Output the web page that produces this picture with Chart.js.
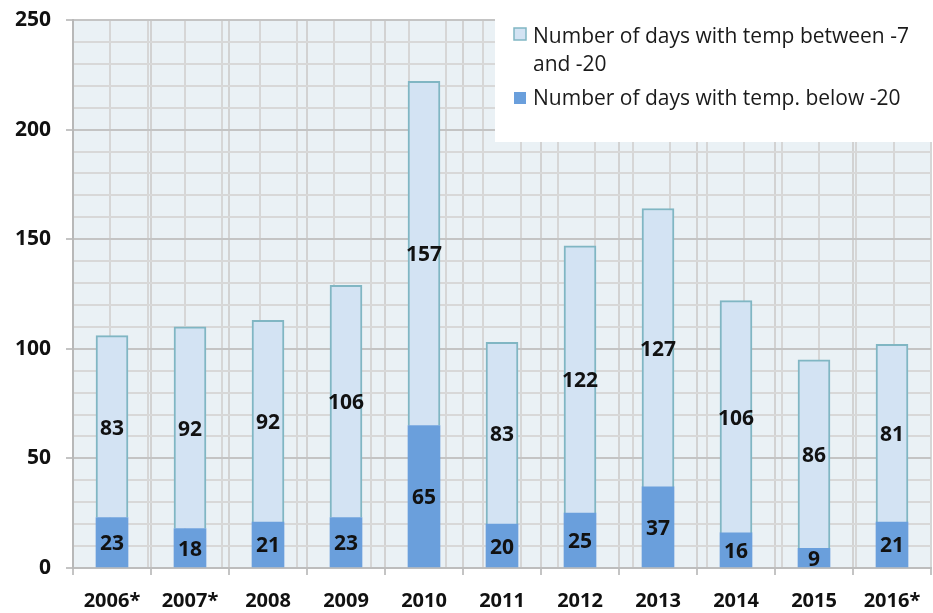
<!DOCTYPE html>
<html>
<head>
<meta charset="utf-8">
<script src="https://cdn.jsdelivr.net/npm/chart.js@4.4.1/dist/chart.umd.min.js"></script>
<style>
  html, body { margin: 0; padding: 0; background: #fff; }
  #wrap { width: 933px; height: 613px; position: relative; }
</style>
</head>
<body>
<div id="wrap"><canvas id="chart"></canvas></div>
<script>
// data
const years = ["2006*", "2007*", "2008", "2009", "2010", "2011", "2012", "2013", "2014", "2015", "2016*"];
const below20 = [23, 18, 21, 23, 65, 20, 25, 37, 16, 9, 21];
const between7and20 = [83, 92, 92, 106, 157, 83, 122, 127, 106, 86, 81];
const seriesNames = [["Number of days with temp between -7", "and -20"], ["Number of days with temp. below -20"]];

const lightFill = "#d3e3f3";
const lightBorder = "#80b6c3";
const darkFill = "#6a9fdc";
const fontName = "'Open Sans', 'DejaVu Sans', sans-serif";

// plot background
const bgPlugin = {
  id: "plotBg",
  beforeDraw(chart) {
    const { ctx, chartArea: a } = chart;
    ctx.save();
    ctx.fillStyle = "#eaf1f5";
    ctx.fillRect(a.left, a.top, a.right - a.left, a.bottom - a.top);
    ctx.restore();
  }
};

// numbers centred in each bar segment
const labelPlugin = {
  id: "segLabels",
  afterDatasetsDraw(chart) {
    const ctx = chart.ctx;
    ctx.save();
    ctx.font = "bold 21px " + fontName;
    ctx.fillStyle = "#111";
    ctx.textAlign = "center";
    ctx.textBaseline = "middle";
    chart.data.datasets.forEach((ds, i) => {
      chart.getDatasetMeta(i).data.forEach((bar, j) => {
        const y = (bar.y + bar.base) / 2 + 2;
        ctx.fillText(String(ds.data[j]), bar.x, y);
      });
    });
    ctx.restore();
  }
};

// white legend box in the top right corner
const legendPlugin = {
  id: "boxLegend",
  afterDraw(chart) {
    const ctx = chart.ctx;
    ctx.save();
    ctx.fillStyle = "#fff";
    ctx.fillRect(495, 0, 438, 142);
    ctx.font = "21px " + fontName;
    ctx.textBaseline = "middle";
    // item 1
    ctx.fillStyle = lightFill;
    ctx.fillRect(514, 28, 12, 12);
    ctx.strokeStyle = lightBorder;
    ctx.lineWidth = 1.5;
    ctx.strokeRect(514, 28, 12, 12);
    ctx.fillStyle = "#1a1a1a";
    ctx.fillText(seriesNames[0][0], 533, 37, 393);
    ctx.fillText(seriesNames[0][1], 533, 65);
    // item 2
    ctx.fillStyle = darkFill;
    ctx.fillRect(514, 92, 12, 12);
    ctx.fillStyle = "#1a1a1a";
    ctx.fillText(seriesNames[1][0], 533, 99, 385);
    ctx.restore();
  }
};

new Chart("chart", {
  type: "bar",
  data: {
    labels: years,
    datasets: [
      {
        label: "below -20",
        data: below20,
        backgroundColor: darkFill,
        borderColor: darkFill,
        borderWidth: 0,
        barThickness: 32
      },
      {
        label: "between -7 and -20",
        data: between7and20,
        backgroundColor: lightFill,
        borderColor: lightBorder,
        borderWidth: 2,
        borderSkipped: "bottom",
        barThickness: 32
      }
    ]
  },
  options: {
    responsive: true,
    maintainAspectRatio: false,
    animation: false,
    layout: { padding: { top: 20, right: 2, left: 0, bottom: 0 } },
    plugins: {
      legend: { display: false },
      tooltip: { enabled: false }
    },
    scales: {
      x: {
        stacked: true,
        grid: { offset: true, color: "#d2d2d2", lineWidth: 2, tickColor: "#c4c4c4", tickLength: 7 },
        border: { color: "#bdbdbd", width: 2 },
        ticks: { color: "#111", font: { family: fontName, weight: "bold", size: 20 }, padding: 14 },
        afterFit(s) { s.height = 45; s.paddingLeft = 0; s.paddingRight = 0; }
      },
      xg: {
        type: "linear",
        position: "bottom",
        min: -0.5,
        max: 10.5,
        ticks: { display: false, stepSize: 0.5 },
        grid: { color: "#d6d6d6", lineWidth: 2, drawTicks: false },
        border: { display: false },
        afterFit(s) { s.height = 0; }
      },
      y: {
        stacked: true,
        min: 0,
        max: 250,
        ticks: {
          stepSize: 10,
          autoSkip: false,
          color: "#111",
          font: { family: fontName, weight: "bold", size: 21 },
          padding: 15,
          callback: v => (v % 50 === 0 ? v : "")
        },
        grid: {
          color: c => (c.tick && c.tick.value % 50 === 0 ? "#c4c4c4" : "#d8d8d8"),
          lineWidth: 2,
          tickColor: c => (c.tick && c.tick.value % 50 === 0 ? "#c4c4c4" : "rgba(0,0,0,0)"),
          tickLength: 7
        },
        border: { color: "#b8b8b8", width: 2 },
        afterFit(s) { s.width = 73; s.paddingTop = 0; s.paddingBottom = 0; }
      }
    }
  },
  plugins: [bgPlugin, labelPlugin, legendPlugin]
});
</script>
</body>
</html>
